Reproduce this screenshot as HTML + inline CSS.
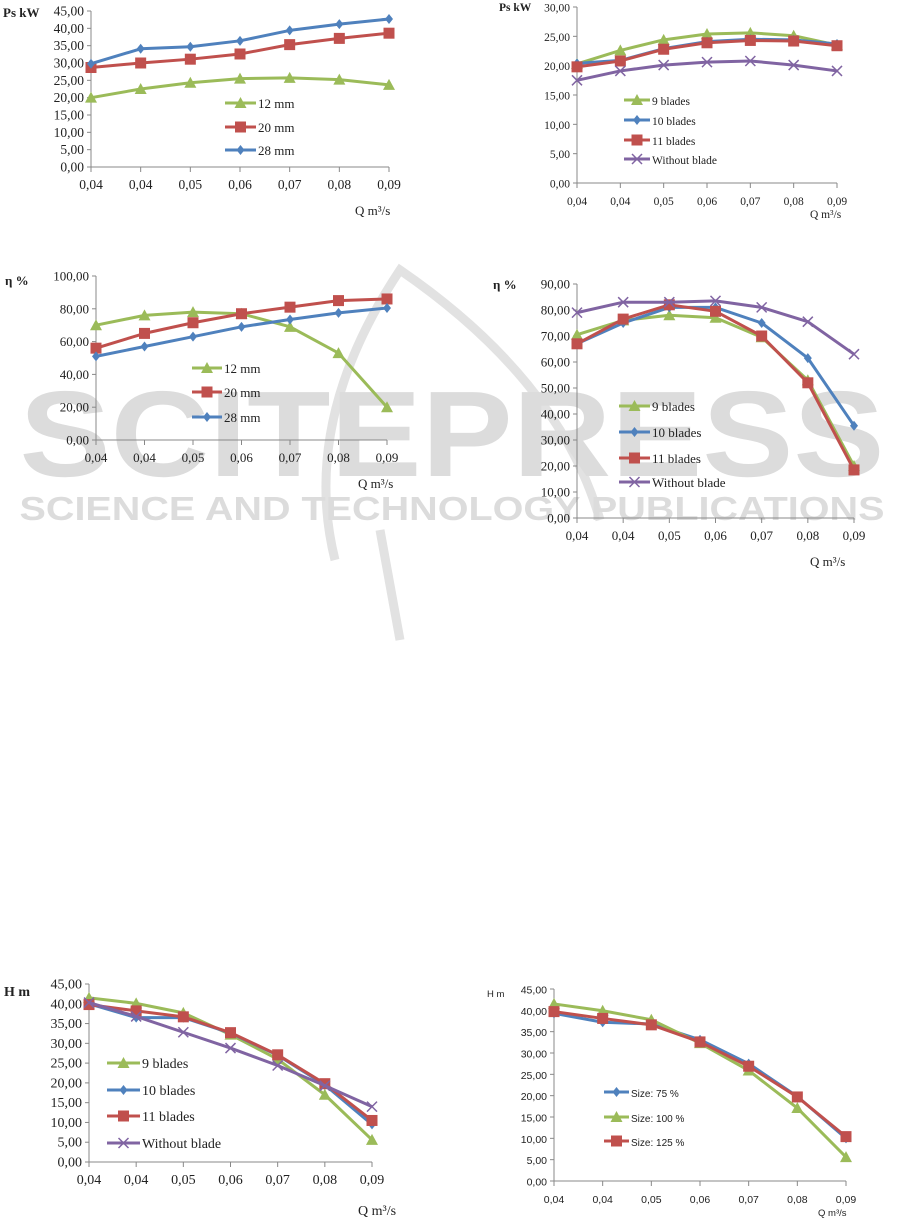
<!DOCTYPE html>
<html><head><meta charset="utf-8"><style>
html,body{margin:0;padding:0;background:#fff;width:904px;height:1221px;overflow:hidden}
svg{position:absolute;left:0;top:0}
</style></head><body>
<svg id="s" width="904" height="1221" xmlns="http://www.w3.org/2000/svg">
<g fill="none" stroke="#e2e2e2" stroke-width="9">
<path d="M335 560 Q300 420 400 270 Q560 380 600 520"/>
<path d="M380 530 L400 640"/>
</g>
<text x="452" y="476" text-anchor="middle" font-family="Liberation Sans,sans-serif" font-weight="bold" font-size="122" fill="#dcdcdc" textLength="865" lengthAdjust="spacingAndGlyphs">SCITEPRESS</text>
<text x="452" y="520" text-anchor="middle" font-family="Liberation Sans,sans-serif" font-weight="bold" font-size="33" fill="#dcdcdc" textLength="865" lengthAdjust="spacingAndGlyphs">SCIENCE AND TECHNOLOGY PUBLICATIONS</text>
</svg>
<script>
var S=document.getElementById('s'),NS='http://www.w3.org/2000/svg';
function el(t,a,txt){var e=document.createElementNS(NS,t);for(var k in a)e.setAttribute(k,a[k]);if(txt!=null)e.textContent=txt;S.appendChild(e);return e;}
var C={g:'#9bbb59',r:'#c0504d',b:'#4f81bd',p:'#8064a2'};
function marker(t,x,y,c,sz){sz=sz||1;
 if(t=='g')el('polygon',{points:(x)+','+(y-6*sz)+' '+(x+6*sz)+','+(y+5*sz)+' '+(x-6*sz)+','+(y+5*sz),fill:c});
 else if(t=='r')el('rect',{x:x-5.5*sz,y:y-5.5*sz,width:11*sz,height:11*sz,fill:c});
 else if(t=='b')el('polygon',{points:x+','+(y-5*sz)+' '+(x+4*sz)+','+y+' '+x+','+(y+5*sz)+' '+(x-4*sz)+','+y,fill:c});
 else{el('path',{d:'M'+(x-5)+' '+(y-5)+'L'+(x+5)+' '+(y+5)+'M'+(x+5)+' '+(y-5)+'L'+(x-5)+' '+(y+5),stroke:c,'stroke-width':1.5});}
}
function chart(o){
 var ff=o.sans?'Liberation Sans,sans-serif':'Liberation Serif,serif',fs=o.fs||13;
 var n=o.max/o.step;
 el('line',{x1:o.x0,y1:o.yT,x2:o.x0,y2:o.yB,stroke:'#888','stroke-width':1});
 el('line',{x1:o.x0,y1:o.yB,x2:o.x1,y2:o.yB,stroke:'#888','stroke-width':1});
 for(var i=0;i<=n;i++){var y=o.yB-(o.yB-o.yT)*i/n;
  el('line',{x1:o.x0-4,y1:y,x2:o.x0,y2:y,stroke:'#888'});
  el('text',{x:o.x0-7,y:y+4.5,'text-anchor':'end','font-family':ff,'font-size':fs,fill:'#222'},(i*o.step).toFixed(2).replace('.',','));}
 var xl=['0,04','0,04','0,05','0,06','0,07','0,08','0,09'];
 for(var i=0;i<7;i++){var x=o.x0+(o.x1-o.x0)*i/6;
  el('line',{x1:x,y1:o.yB,x2:x,y2:o.yB+5,stroke:'#888'});
  el('text',{x:x,y:o.yB+22,'text-anchor':'middle','font-family':ff,'font-size':fs,fill:'#222'},xl[i]);}
 o.series.forEach(function(s){
  var pts=s.d.map(function(v,i){return [o.x0+(o.x1-o.x0)*i/6,o.yB-(o.yB-o.yT)*v/o.max];});
  el('polyline',{points:pts.map(function(p){return p.join(',')}).join(' '),fill:'none',stroke:C[s.c],'stroke-width':3,'stroke-linejoin':'round'});
  pts.forEach(function(p){marker(s.c,p[0],p[1],C[s.c]);});
 });
 o.leg.forEach(function(l,i){var s=o.series[i];var y=l[1];
  el('line',{x1:o.lx,y1:y,x2:o.lx+o.lw,y2:y,stroke:C[s.c],'stroke-width':3});
  marker(s.c,o.lx+o.lw/2,y,C[s.c]);
  el('text',{x:o.lx+o.lw+2,y:y+5,'font-family':ff,'font-size':o.lfs||14,fill:'#222'},l[0]);});
 el('text',{x:o.yt[1],y:o.yt[2],'font-family':o.sans?ff:'Liberation Serif,serif','font-size':o.tfs||13,'font-weight':o.sans?'normal':'bold',fill:'#222'},o.yt[0]);
 el('text',{x:o.qt[0],y:o.qt[1],'font-family':o.sans?ff:'Liberation Serif,serif','font-size':o.tfs||13,fill:'#222'},'Q m³/s');
}
chart({x0:91,x1:389,yT:11,yB:167,max:45,step:5,fs:13.5,
 series:[{c:'g',d:[20,22.5,24.3,25.5,25.7,25.2,23.7]},{c:'r',d:[28.7,30,31.1,32.6,35.3,37.1,38.6]},{c:'b',d:[29.8,34.1,34.7,36.4,39.4,41.2,42.7]}],
 lx:225,lw:31,leg:[['12 mm',103],['20 mm',127],['28 mm',150]],lfs:13,yt:['Ps kW',3,17],qt:[355,215]});
chart({x0:577,x1:837,yT:7,yB:183,max:30,step:5,fs:11.5,
 series:[{c:'g',d:[20.3,22.6,24.4,25.4,25.6,25.1,23.5]},{c:'b',d:[20.4,20.9,22.9,24.1,24.5,24.4,23.7]},{c:'r',d:[19.8,20.8,22.8,23.9,24.3,24.2,23.4]},{c:'p',d:[17.5,19.1,20.1,20.6,20.8,20.1,19.1]}],
 lx:624,lw:26,leg:[['9 blades',100],['10 blades',120],['11 blades',140],['Without blade',159]],lfs:11.5,tfs:11.5,yt:['Ps kW',499,11],qt:[810,218]});
chart({x0:96,x1:387,yT:276,yB:440,max:100,step:20,fs:13,
 series:[{c:'g',d:[70,76,78,77,69,53,20]},{c:'r',d:[56,65,71.5,77,81,85,86]},{c:'b',d:[51,57,63,69,73.5,77.5,80.5]}],
 lx:192,lw:30,leg:[['12 mm',368],['20 mm',392],['28 mm',417]],lfs:13,yt:['η %',5,285],qt:[358,488]});
chart({x0:577,x1:854,yT:284,yB:518,max:90,step:10,fs:13,
 series:[{c:'g',d:[70.5,76,78,77,69.5,53,20]},{c:'b',d:[67,75,81,81,75,61.5,35.5]},{c:'r',d:[67,76.5,82,79.5,70,52,18.5]},{c:'p',d:[79,83,83,83.5,81,75.5,63]}],
 lx:619,lw:31,leg:[['9 blades',406],['10 blades',432],['11 blades',458],['Without blade',482]],lfs:13,yt:['η %',493,289],qt:[810,566]});
chart({x0:89,x1:372,yT:984,yB:1162,max:45,step:5,fs:14,
 series:[{c:'g',d:[41.5,40.1,37.7,32.2,26,17,5.6]},{c:'b',d:[40,36.5,36.5,32.6,27,19.5,9.5]},{c:'r',d:[39.8,38.2,36.7,32.7,27.1,19.8,10.5]},{c:'p',d:[40.3,36.8,32.8,28.8,24.4,19.3,14]}],
 lx:107,lw:33,leg:[['9 blades',1063],['10 blades',1090],['11 blades',1116],['Without blade',1143]],lfs:14,tfs:14,yt:['H m',4,996],qt:[358,1215]});
chart({x0:554,x1:846,yT:989,yB:1181,max:45,step:5,fs:10.5,sans:true,
 series:[{c:'b',d:[39.3,37.2,36.8,33.1,27.5,19.8,10]},{c:'g',d:[41.5,39.9,37.8,32.3,25.9,17.1,5.6]},{c:'r',d:[39.7,38.1,36.6,32.6,26.9,19.7,10.4]}],
 lx:604,lw:25,leg:[['Size: 75 %',1092],['Size: 100 %',1117],['Size: 125 %',1141]],lfs:10,tfs:9.5,yt:['H m',487,997],qt:[818,1216]});
</script>
</body></html>
